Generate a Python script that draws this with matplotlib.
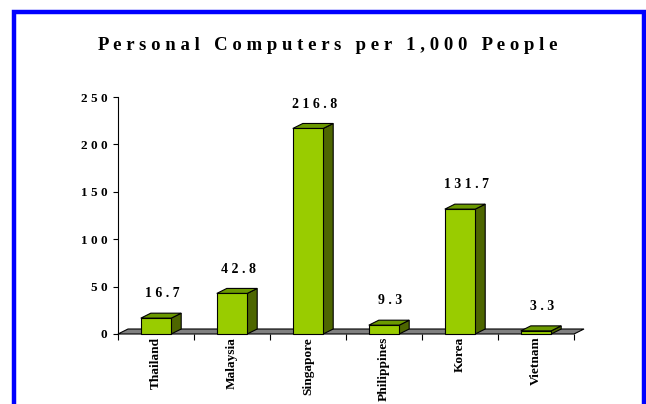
import matplotlib
matplotlib.use("Agg")
import matplotlib.pyplot as plt
from matplotlib.patches import Polygon, Rectangle

# ---------------------------------------------------------------------------
# Data
# ---------------------------------------------------------------------------
countries = ["Thailand", "Malaysia", "Singapore", "Philippines", "Korea", "Vietnam"]
pcs_per_1000 = [16.7, 42.8, 216.8, 9.3, 131.7, 3.3]
y_ticks = [0, 50, 100, 150, 200, 250]
title = "Personal Computers per 1,000 People"

FRONT = "#99CC00"
TOP = "#6B9900"
SIDE = "#4D6600"
FLOOR = "#808080"
SERIF = "Liberation Serif"


def spaced(s, word_gap="   "):
    """Fake letter spacing like the old chart had."""
    return word_gap.join(" ".join(w) for w in s.split(" "))


W, H = 646, 404
fig = plt.figure(figsize=(W / 100, H / 100), dpi=100)

# plot area in pixel terms: x 118..574, y 97..334 (from top)
ax = fig.add_axes([118 / W, (H - 334) / H, (574 - 118) / W, (334 - 97) / H])
ax.set_xlim(0, len(countries))
ax.set_ylim(0, 250)

# 3-D depth offsets (10 px right, 5 px up) in data units
dx = 10 / 76
dy = 5 * 250 / 237
bar_w = 0.4

# floor
n = len(countries)
floor = Polygon([(0, 0), (n, 0), (n + dx, dy), (dx, dy)], closed=True,
                facecolor=FLOOR, edgecolor="black", lw=0.8, clip_on=False, zorder=1)
ax.add_patch(floor)

for i, v in enumerate(pcs_per_1000):
    x0 = i + 0.5 - bar_w / 2
    x1 = x0 + bar_w
    top = Polygon([(x0, v), (x1, v), (x1 + dx, v + dy), (x0 + dx, v + dy)],
                  closed=True, facecolor=TOP, edgecolor="black", lw=0.8,
                  clip_on=False, zorder=2)
    side = Polygon([(x1, 0), (x1 + dx, dy), (x1 + dx, v + dy), (x1, v)],
                   closed=True, facecolor=SIDE, edgecolor="black", lw=0.8,
                   clip_on=False, zorder=2)
    ax.add_patch(side)
    ax.add_patch(top)
    ax.add_patch(Rectangle((x0, 0), bar_w, v, facecolor=FRONT, edgecolor="black",
                           lw=0.8, clip_on=False, zorder=3))
    ax.annotate(spaced(f"{v:.1f}"), xy=(i + 0.5, v), xytext=(4.5, 17.5),
                textcoords="offset points", ha="center", va="center",
                fontsize=10, fontweight="bold", family=SERIF)

# axes styling
for s in ["top", "right"]:
    ax.spines[s].set_visible(False)
ax.spines["bottom"].set_visible(False)
ax.spines["left"].set_linewidth(0.8)

ax.set_yticks(y_ticks)
ax.set_yticklabels([spaced(str(t)) for t in y_ticks], family=SERIF,
                   fontweight="bold", fontsize=9.5)
ax.tick_params(axis="y", length=3.6, width=0.8, pad=4)

ax.set_xticks(range(n + 1))
ax.set_xticklabels([])
ax.tick_params(axis="x", which="major", length=4.3, width=0.8)
ax.set_xticks([i + 0.5 for i in range(n)], minor=True)
ax.set_xticklabels(countries, minor=True, rotation=90, family=SERIF,
                   fontweight="bold", fontsize=9.6)
ax.tick_params(axis="x", which="minor", length=0, pad=2)

fig.text(0.508, 1 - 45 / H, spaced(title), ha="center", va="center",
         fontsize=13.5, fontweight="bold", family=SERIF)

# blue frame (bottom edge runs off the picture)
fig.patches.append(Rectangle((14 / W, -0.05), (643.5 - 14) / W, (H - 12) / H + 0.05,
                             transform=fig.transFigure, fill=False,
                             edgecolor="#0000FF", lw=3.2, zorder=10))

fig.savefig("out.png", dpi=100)
